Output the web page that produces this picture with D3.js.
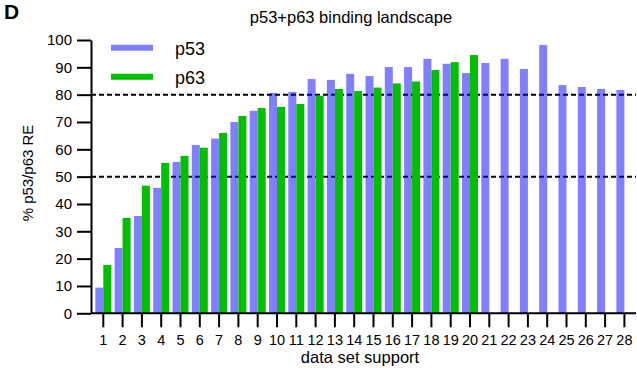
<!DOCTYPE html>
<html>
<head>
<meta charset="utf-8">
<script src="https://cdn.jsdelivr.net/npm/d3@7"></script>
<style>
  html, body { margin: 0; padding: 0; background: #fff; }
  svg { display: block; font-family: "Liberation Sans", Arial, Helvetica, sans-serif; }
</style>
</head>
<body>
<svg id="chart" width="637" height="368"></svg>
<script>
// Data set support levels (x categories)
const categories = d3.range(1, 29).map(String);
// % of peaks containing a p53/p63 response element
const p53Values = [9.4, 23.9, 35.6, 45.9, 55.4, 61.6, 63.9, 70.0, 74.1, 80.6, 81.0, 85.7, 85.4, 87.6,
                   86.8, 90.1, 90.1, 93.1, 91.3, 87.9, 91.6, 93.1, 89.4, 98.2, 83.5, 82.8, 82.1, 81.7];
const p63Values = [17.7, 34.9, 46.7, 55.0, 57.6, 60.6, 66.0, 72.2, 75.1, 75.5, 76.6, 79.6, 82.1, 81.3,
                   82.6, 84.1, 84.8, 89.0, 91.9, 94.5];
const yTicks = [0, 10, 20, 30, 40, 50, 60, 70, 80, 90, 100];
const referenceLines = [50, 80];
const seriesNames = ["p53", "p63"];

const colors = { p53: "rgba(0,0,255,0.5)", p63: "#00bf00" };

const svg = d3.select("#chart");
const axisX = 91, axisY = 313.3, rightEdge = 636;

const x = d3.scaleBand().domain(categories).range([93.65, 634.05]).padding(0);
const sub = d3.scaleBand().domain(seriesNames).range([0, 16]).padding(0);
const y = d3.scaleLinear().domain([0, 100]).range([axisY, 40]);

// Dashed reference lines (behind the translucent p53 bars)
svg.append("g").selectAll("line").data(referenceLines).join("line")
  .attr("x1", axisX).attr("x2", rightEdge)
  .attr("y1", d => y(d)).attr("y2", d => y(d))
  .attr("stroke", "#000").attr("stroke-width", 2)
  .attr("stroke-dasharray", "5,3");

// Bars
const rows = [];
categories.forEach((c, i) => {
  if (p53Values[i] != null) rows.push({ c, s: "p53", v: p53Values[i] });
  if (p63Values[i] != null) rows.push({ c, s: "p63", v: p63Values[i] });
});
svg.append("g").selectAll("rect").data(rows).join("rect")
  .attr("x", d => x(d.c) + x.bandwidth() / 2 - 8 + sub(d.s))
  .attr("width", sub.bandwidth())
  .attr("y", d => y(d.v))
  .attr("height", d => y(0) - y(d.v))
  .attr("fill", d => colors[d.s]);

// Y axis
const yAxis = svg.append("g").attr("transform", `translate(${axisX},0)`)
  .call(d3.axisLeft(y).tickValues(yTicks).tickSize(14).tickPadding(5).tickSizeOuter(0));
yAxis.select(".domain").attr("stroke-width", 2);
yAxis.selectAll(".tick line").attr("stroke-width", 2);
yAxis.selectAll(".tick text").attr("font-size", 15).attr("font-family", null).attr("fill", "#000");

// X axis
const xAxis = svg.append("g").attr("transform", `translate(0,${axisY})`)
  .call(d3.axisBottom(x).tickSize(14).tickPadding(7).tickSizeOuter(0));
xAxis.select(".domain").attr("d", `M${axisX},0H${rightEdge}`).attr("stroke-width", 2);
xAxis.selectAll(".tick line").attr("stroke-width", 2);
xAxis.selectAll(".tick text").attr("font-size", 14.5).attr("font-family", null).attr("fill", "#000");

// Titles
svg.append("text").attr("x", 351).attr("y", 23).attr("text-anchor", "middle")
  .attr("font-size", 16.5).text("p53+p63 binding landscape");
svg.append("text").attr("x", 360).attr("y", 363).attr("text-anchor", "middle")
  .attr("font-size", 16.5).text("data set support");
svg.append("text").attr("transform", "translate(33,173) rotate(-90)").attr("text-anchor", "middle")
  .attr("font-size", 15).text("% p53/p63 RE");
svg.append("text").attr("x", 4).attr("y", 18.5).attr("font-size", 21).attr("font-weight", "bold").text("D");

// Legend
const legend = svg.append("g").selectAll("g").data(seriesNames).join("g")
  .attr("transform", (d, i) => `translate(111,${47.8 + i * 29})`);
legend.append("line").attr("x1", 0).attr("x2", 42).attr("y1", 0).attr("y2", 0)
  .attr("stroke", d => colors[d]).attr("stroke-width", 6);
legend.append("text").attr("x", 64).attr("y", 7).attr("font-size", 18).text(d => d);
</script>
</body>
</html>
